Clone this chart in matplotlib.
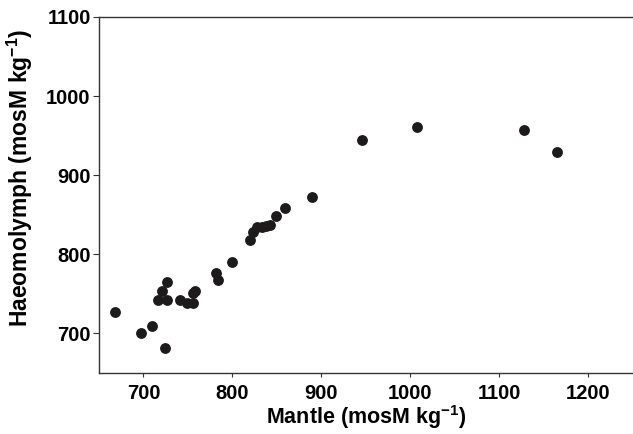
import numpy as np
import matplotlib
matplotlib.use('Agg')
import matplotlib.pyplot as plt

# Mantle vs haemolymph osmolality (mosM kg-1)
mantle = [668, 697, 710, 724, 721, 726, 716, 726, 741, 749, 756, 758, 756,
          781, 784, 800, 820, 823, 828, 833, 838, 842, 849, 859, 889,
          945, 1007, 1127, 1165]
haemolymph = [727, 701, 710, 681, 754, 765, 742, 742, 742, 739, 739, 754, 751,
              777, 767, 790, 818, 828, 834, 834, 836, 837, 848, 859, 873,
              945, 961, 957, 929]

xticks = [700, 800, 900, 1000, 1100, 1200]
yticks = [700, 800, 900, 1000, 1100]

plt.rcParams['font.family'] = ['Liberation Sans', 'DejaVu Sans']
plt.rcParams['font.weight'] = 'bold'
plt.rcParams['mathtext.fontset'] = 'custom'
plt.rcParams['mathtext.rm'] = 'Liberation Sans:bold'
plt.rcParams['mathtext.bf'] = 'Liberation Sans:bold'
plt.rcParams['mathtext.default'] = 'bf'

fig = plt.figure(figsize=(6.33, 4.34), dpi=100)
ax = fig.add_axes([99 / 633, 61 / 434, 1 - 99 / 633, 356 / 434])

ax.plot(mantle, haemolymph, 'o', color='#1c1a1b', markersize=7.8,
        markeredgewidth=0, clip_on=False)

ax.set_xlim(650, 1250)
ax.set_ylim(650, 1100)
ax.set_xticks(xticks)
ax.set_yticks(yticks)

for s in ['left', 'bottom', 'top']:
    ax.spines[s].set_linewidth(1.0)
    ax.spines[s].set_color('#333333')
ax.spines['right'].set_visible(False)

ax.tick_params(axis='both', direction='out', length=3, width=0.8,
               color='#333333', labelsize=14.5, pad=5)
ax.tick_params(axis='y', length=4, pad=2)

ax.set_xlabel('Mantle (mosM kg$^{-1}$)', fontsize=15.5, fontweight='bold',
              labelpad=0)
ax.set_ylabel('Haeomolymph (mosM kg$^{-1}$)', fontsize=16.5,
              fontweight='bold')
ax.yaxis.set_label_coords(-0.12, 0.548)

fig.savefig('out.png', dpi=100)
